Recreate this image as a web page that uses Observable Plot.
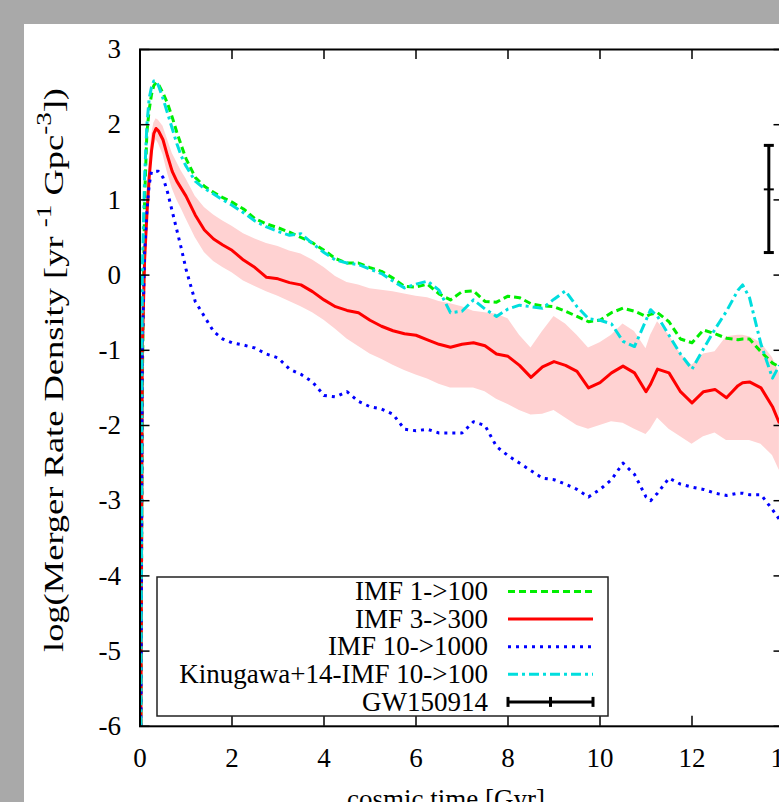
<!DOCTYPE html>
<html>
<head>
<meta charset="utf-8">
<script src="https://cdn.jsdelivr.net/npm/d3@7"></script>
<script src="https://cdn.jsdelivr.net/npm/@observablehq/plot@0.6"></script>
<style>
  html, body { margin: 0; padding: 0; width: 779px; height: 802px; overflow: hidden; background: #a9a9a9; }
  #panel { position: absolute; left: 24px; top: 24px; width: 800px; height: 820px; background: #fff; }
  #panel svg { display: block; }
</style>
</head>
<body>
<div id="panel"></div>
<script>
// ---------------- data ----------------
const timeGyr = [0.02,0.05,0.1,0.15,0.2,0.25,0.3,0.35,0.4,
  0.5,0.6,0.7,0.8,0.9,1.0,
  1.2,1.4,1.6,1.8,2.0,
  2.25,2.5,2.75,3.0,3.25,3.5,3.75,4.0,
  4.25,4.5,4.75,5.0,5.25,5.5,5.75,6.0,
  6.25,6.5,6.75,7.0,7.25,7.5,7.75,8.0,
  8.25,8.5,8.75,9.0,9.25,9.5,9.75,10.0,
  10.25,10.5,10.75,11.0,11.1,
  11.25,11.5,11.75,12.0,
  12.25,12.5,12.75,13.0,13.1,
  13.25,13.5,13.75,13.9];

const imf1to100 = [-6,-1.5,1.0,1.9,2.2,2.4,2.52,2.56,2.54,
  2.42,2.28,2.1,1.9,1.72,1.55,
  1.3,1.18,1.1,1.03,0.97,
  0.88,0.75,0.68,0.63,0.57,0.5,0.43,0.33,
  0.22,0.16,0.16,0.1,0.05,-0.04,-0.15,-0.16,
  -0.12,-0.25,-0.33,-0.22,-0.21,-0.35,-0.36,-0.28,
  -0.3,-0.38,-0.41,-0.42,-0.48,-0.55,-0.62,-0.6,
  -0.5,-0.44,-0.48,-0.55,-0.52,
  -0.5,-0.62,-0.85,-0.9,
  -0.73,-0.78,-0.84,-0.86,-0.85,
  -0.85,-1.02,-1.17,-1.22];

const imf3to300 = [-6,-1,0.2,0.8,1.3,1.65,1.88,1.95,1.92,
  1.8,1.58,1.38,1.25,1.15,1.05,
  0.8,0.6,0.48,0.4,0.33,
  0.2,0.1,-0.03,-0.05,-0.1,-0.13,-0.22,-0.33,
  -0.42,-0.47,-0.5,-0.6,-0.68,-0.74,-0.78,-0.8,
  -0.86,-0.92,-0.96,-0.92,-0.9,-0.94,-1.05,-1.08,
  -1.2,-1.36,-1.22,-1.15,-1.2,-1.28,-1.5,-1.43,
  -1.3,-1.21,-1.3,-1.55,-1.45,
  -1.25,-1.3,-1.55,-1.7,
  -1.55,-1.52,-1.63,-1.47,-1.43,
  -1.42,-1.5,-1.75,-1.97];

const band3to300Low = [-6,-1.5,0,0.6,1.1,1.45,1.7,1.8,1.75,
  1.6,1.35,1.15,1.0,0.88,0.75,
  0.5,0.3,0.18,0.1,0.03,
  -0.08,-0.15,-0.22,-0.28,-0.35,-0.42,-0.5,-0.6,
  -0.72,-0.85,-0.95,-1.05,-1.12,-1.2,-1.27,-1.33,
  -1.38,-1.45,-1.5,-1.5,-1.5,-1.55,-1.65,-1.72,
  -1.8,-1.86,-1.85,-1.8,-1.9,-2.0,-2.05,-2.0,
  -1.95,-1.97,-2.05,-2.12,-2.05,
  -1.9,-2.05,-2.15,-2.25,
  -2.15,-2.1,-2.2,-2.2,-2.2,
  -2.2,-2.25,-2.4,-2.6];

const band3to300High = [-6,-0.5,0.5,1.1,1.55,1.85,2.02,2.08,2.06,
  1.98,1.8,1.62,1.5,1.38,1.28,
  1.05,0.9,0.8,0.72,0.65,
  0.55,0.48,0.42,0.38,0.32,0.28,0.2,0.1,
  -0.02,-0.1,-0.13,-0.18,-0.2,-0.22,-0.25,-0.28,
  -0.3,-0.35,-0.38,-0.42,-0.48,-0.5,-0.52,-0.58,
  -0.8,-0.97,-0.75,-0.55,-0.65,-0.8,-0.97,-0.9,
  -0.8,-0.65,-0.75,-0.98,-0.8,
  -0.62,-0.8,-1.05,-1.2,
  -1.05,-1.02,-0.82,-0.8,-0.8,
  -0.82,-0.9,-1.1,-1.3];

const imf10to1000 = [-6,-1,0.3,0.85,1.2,1.38,1.38,1.38,1.38,
  1.3,1.1,0.85,0.6,0.35,0.08,
  -0.35,-0.55,-0.75,-0.85,-0.9,
  -0.93,-0.97,-1.05,-1.1,-1.25,-1.32,-1.42,-1.6,
  -1.62,-1.55,-1.68,-1.75,-1.78,-1.85,-2.05,-2.07,
  -2.05,-2.1,-2.1,-2.1,-1.95,-2.0,-2.28,-2.4,
  -2.5,-2.6,-2.7,-2.72,-2.78,-2.85,-2.95,-2.85,
  -2.72,-2.5,-2.65,-2.95,-3.0,
  -2.9,-2.7,-2.78,-2.82,
  -2.85,-2.9,-2.93,-2.9,-2.9,
  -2.92,-2.92,-3.12,-3.25];

const kinugawa14 = [-6,0,1.3,2.0,2.35,2.5,2.58,2.58,2.52,
  2.35,2.15,1.95,1.75,1.58,1.45,
  1.25,1.15,1.08,1.0,0.93,
  0.83,0.72,0.64,0.58,0.53,0.55,0.42,0.3,
  0.2,0.16,0.14,0.08,0.02,-0.08,-0.17,-0.12,
  -0.08,-0.2,-0.5,-0.48,-0.33,-0.45,-0.55,-0.45,
  -0.4,-0.42,-0.44,-0.32,-0.21,-0.42,-0.58,-0.6,
  -0.65,-0.88,-0.95,-0.6,-0.46,
  -0.55,-0.8,-1.05,-1.25,
  -0.98,-0.72,-0.48,-0.2,-0.13,
  -0.3,-0.92,-1.37,-1.2];

const gwTime = [13.67];
const gwLow = [0.3];
const gwCentral = [1.14];
const gwHigh = [1.725];

const xTicks = [0,2,4,6,8,10,12,14];
const yTicks = [3,2,1,0,-1,-2,-3,-4,-5,-6];
const seriesLabels = ["IMF 1->100","IMF 3->300","IMF 10->1000","Kinugawa+14-IMF 10->100","GW150914"];

// ---------------- build ----------------
const rows = timeGyr.map((t, i) => ({
  t, g: imf1to100[i], r: imf3to300[i], b: imf10to1000[i], c: kinugawa14[i],
  lo: band3to300Low[i], hi: band3to300High[i]
}));
const gw = gwTime.map((t, i) => ({t, lo: gwLow[i], mid: gwCentral[i], hi: gwHigh[i]}));

const styles = [
  {key: "g", stroke: "#00ee00", dash: "7,4"},
  {key: "r", stroke: "#ff0000", dash: null},
  {key: "b", stroke: "#0000ff", dash: "3,5"},
  {key: "c", stroke: "#00dede", dash: "10,4,3,4"}
];

const W = 800, H = 820;
const mL = 115.5, mR = 40.5, mT = 25, mB = 118.2;
const plotW = W - mL - mR, plotH = H - mT - mB;
const FONT = '"Liberation Serif", "Times New Roman", Times, serif';

const hbar = {draw(ctx, size) { const w = Math.sqrt(size / Math.PI); ctx.moveTo(-w, 0); ctx.lineTo(w, 0); }};

const chart = Plot.plot({
  width: W, height: H,
  marginLeft: mL, marginRight: mR, marginTop: mT, marginBottom: mB,
  x: {domain: [0, 14]},
  y: {domain: [-6, 3]},
  style: {background: "white", maxWidth: "none", fontFamily: FONT, fontSize: "27px", color: "#000", overflow: "visible"},
  marks: [
    Plot.areaY(rows, {x: "t", y1: "lo", y2: "hi", fill: "#ffd2d2", curve: "linear"}),
    ...styles.map(s => Plot.lineY(rows, {x: "t", y: s.key, stroke: s.stroke, strokeWidth: 3, strokeDasharray: s.dash, strokeLinecap: "butt"})),
    Plot.ruleX(gw, {x: "t", y1: "lo", y2: "hi", stroke: "#000", strokeWidth: 3}),
    Plot.dot(gw, {x: "t", y: "lo", symbol: hbar, r: 5, stroke: "#000", strokeWidth: 3, fill: "none"}),
    Plot.dot(gw, {x: "t", y: "hi", symbol: hbar, r: 5, stroke: "#000", strokeWidth: 3, fill: "none"}),
    Plot.dot(gw, {x: "t", y: "mid", symbol: hbar, r: 5, stroke: "#000", strokeWidth: 2, fill: "none"}),
    Plot.tickY(yTicks, {y: d => d, stroke: "#000", strokeWidth: 1.5, insetRight: plotW - 10}),
    Plot.tickY(yTicks, {y: d => d, stroke: "#000", strokeWidth: 1.5, insetLeft: plotW - 10}),
    Plot.tickX(xTicks, {x: d => d, stroke: "#000", strokeWidth: 1.5, insetTop: plotH - 10}),
    Plot.tickX(xTicks, {x: d => d, stroke: "#000", strokeWidth: 1.5, insetBottom: plotH - 10}),
    Plot.frame({stroke: "#000", strokeWidth: 2}),
    Plot.axisY({ticks: yTicks, tickSize: 0, tickPadding: 19, tickFormat: d => String(d), fontSize: 27, label: null}),
    Plot.axisX({ticks: xTicks, tickSize: 0, tickPadding: 22, tickFormat: d => String(d), fontSize: 27, label: null})
  ]
});
document.getElementById("panel").appendChild(chart);

// ---------------- titles & legend (inside the same svg) ----------------
const svg = d3.select(chart);
const yl = svg.append("text")
  .attr("transform", `translate(${63 - 24},${370 - 24}) rotate(-90)`)
  .attr("text-anchor", "middle")
  .attr("font-family", FONT).attr("font-size", 27).attr("fill", "#000")
  .attr("textLength", 564).attr("lengthAdjust", "spacingAndGlyphs");
yl.append("tspan").text("log(Merger Rate Density [yr ");
yl.append("tspan").attr("dy", -12).attr("font-size", 20).text("-1");
yl.append("tspan").attr("dy", 12).text(" Gpc");
yl.append("tspan").attr("dy", -12).attr("font-size", 20).text("-3");
yl.append("tspan").attr("dy", 12).text("])");

svg.append("text")
  .attr("x", 446 - 24).attr("y", 808 - 24)
  .attr("text-anchor", "middle")
  .attr("font-family", FONT).attr("font-size", 27).attr("fill", "#000")
  .text("cosmic time [Gyr]");

const lg = svg.append("g").attr("font-family", FONT).attr("font-size", 27);
lg.append("rect").attr("x", 157 - 24).attr("y", 577 - 24).attr("width", 451).attr("height", 139)
  .attr("fill", "#fff").attr("stroke", "#222").attr("stroke-width", 1.5);
seriesLabels.forEach((lab, i) => {
  const cy = 591.5 + i * 27.6 - 24;
  lg.append("text").attr("x", 488 - 24).attr("y", cy).attr("dy", "0.32em")
    .attr("text-anchor", "end").attr("fill", "#000").text(lab);
  const x1 = 508 - 24, x2 = 593 - 24;
  if (i < 4) {
    const s = styles[i];
    lg.append("line").attr("x1", x1).attr("x2", x2).attr("y1", cy).attr("y2", cy)
      .attr("stroke", s.stroke).attr("stroke-width", 3)
      .attr("stroke-dasharray", s.dash).attr("stroke-linecap", "butt");
  } else {
    lg.append("line").attr("x1", x1).attr("x2", x2).attr("y1", cy).attr("y2", cy).attr("stroke", "#000").attr("stroke-width", 3);
    [x1, (x1 + x2) / 2, x2].forEach(x => {
      lg.append("line").attr("x1", x).attr("x2", x).attr("y1", cy - 5).attr("y2", cy + 5).attr("stroke", "#000").attr("stroke-width", 3);
    });
  }
});
</script>
</body>
</html>
